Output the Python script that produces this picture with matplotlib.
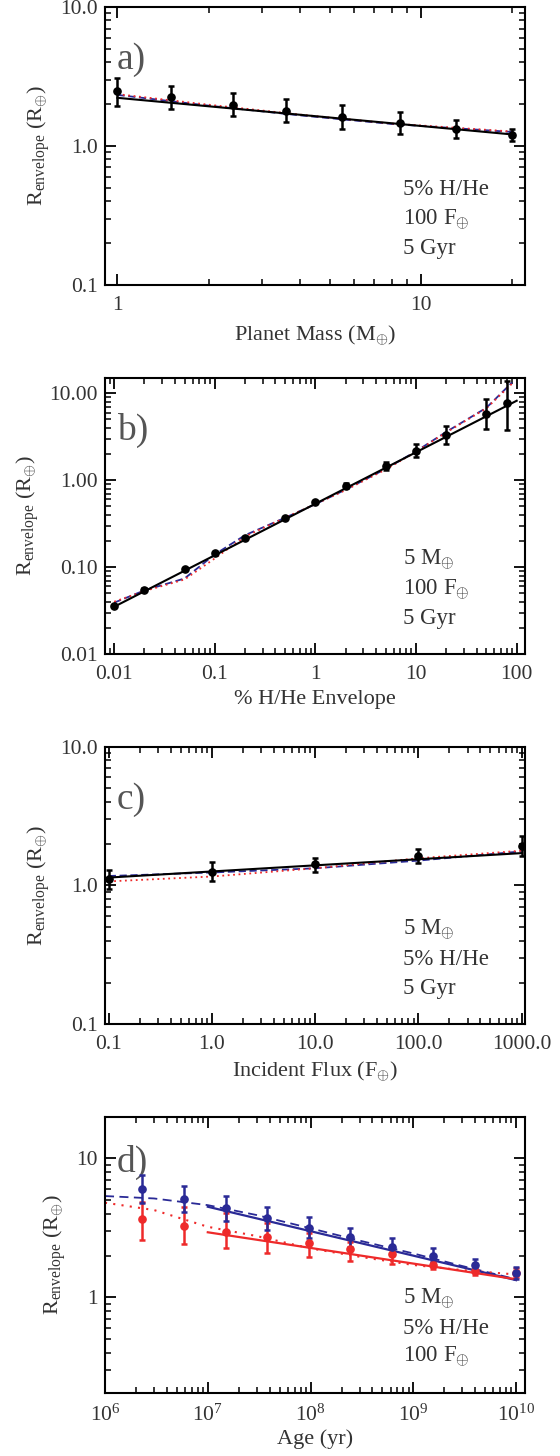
import matplotlib
matplotlib.use("Agg")
import matplotlib.pyplot as plt
from matplotlib.ticker import LogLocator, NullFormatter, FixedLocator, FixedFormatter

plt.rcParams['font.family'] = ['Liberation Serif', 'DejaVu Serif']
plt.rcParams['mathtext.fontset'] = 'custom'
plt.rcParams['mathtext.rm'] = 'Liberation Serif'
plt.rcParams['mathtext.it'] = 'Liberation Serif:italic'

TXT = '#333333'
LBL = '#555555'
BLUE = '#2a2a96'
RED = '#ee2a2a'

# ---------------- panel a data ----------------
mass = [1.0, 1.5, 2.4, 3.6, 5.5, 8.5, 13.0, 20.0]
ra = [2.50, 2.24, 1.98, 1.79, 1.62, 1.47, 1.32, 1.20]
ra_hi = [3.06, 2.70, 2.39, 2.18, 1.97, 1.75, 1.54, 1.33]
ra_lo = [1.94, 1.84, 1.64, 1.48, 1.33, 1.22, 1.15, 1.09]
fit_mass = [1.0, 20.0]
fit_a = [2.22, 1.21]
mod_mass = [1.0, 2.0, 4.0, 8.0, 20.0]
blue_a = [2.33, 1.95, 1.66, 1.44, 1.26]
red_a = [2.36, 1.98, 1.68, 1.45, 1.27]
a_yticks = [0.1, 1.0, 10.0]
a_ylabels = ['0.1', '1.0', '10.0']
a_xticks = [1, 10]
a_xlabels = ['1', '10']

# ---------------- panel b data ----------------
env = [0.01, 0.02, 0.05, 0.1, 0.2, 0.5, 1, 2, 5, 10, 20, 50, 80]
rb = [0.036, 0.055, 0.095, 0.144, 0.216, 0.372, 0.563, 0.868, 1.47, 2.17, 3.35, 5.79, 7.74]
rb_hi = [0.037, 0.057, 0.098, 0.148, 0.222, 0.382, 0.58, 0.92, 1.62, 2.62, 4.2, 8.7, 14.0]
rb_lo = [0.035, 0.053, 0.092, 0.140, 0.210, 0.362, 0.548, 0.82, 1.32, 1.85, 2.64, 3.9, 3.76]
fit_env = [0.01, 100.0]
fit_b = [0.035, 8.2]
mod_env = [0.01, 0.02, 0.05, 0.1, 0.2, 0.5, 1, 2, 5, 10, 20, 50, 90]
blue_b = [0.039, 0.054, 0.074, 0.140, 0.233, 0.37, 0.53, 0.78, 1.35, 2.15, 3.6, 6.8, 13.3]
red_b = [0.040, 0.053, 0.072, 0.126, 0.225, 0.37, 0.53, 0.77, 1.33, 2.12, 3.55, 6.7, 12.9]
b_yticks = [0.01, 0.1, 1.0, 10.0]
b_ylabels = ['0.01', '0.10', '1.00', '10.00']
b_xticks = [0.01, 0.1, 1, 10, 100]
b_xlabels = ['0.01', '0.1', '1', '10', '100']

# ---------------- panel c data ----------------
flux = [0.1, 1.0, 10.0, 100.0, 1000.0]
rc = [1.11, 1.26, 1.43, 1.64, 1.93]
rc_hi = [1.30, 1.47, 1.59, 1.84, 2.26]
rc_lo = [0.94, 1.07, 1.26, 1.45, 1.62]
fit_flux = [0.1, 1000.0]
fit_c = [1.14, 1.71]
blue_c = [1.17, 1.24, 1.33, 1.51, 1.76]
red_c = [1.07, 1.16, 1.33, 1.57, 1.78]
c_yticks = [0.1, 1.0, 10.0]
c_ylabels = ['0.1', '1.0', '10.0']
c_xticks = [0.1, 1, 10, 100, 1000]
c_xlabels = ['0.1', '1.0', '10.0', '100.0', '1000.0']

# ---------------- panel d data ----------------
age = [2.28e6, 5.87e6, 1.5e7, 3.8e7, 9.6e7, 2.4e8, 6.2e8, 1.57e9, 4.0e9, 1.0e10]
rd_blue = [5.98, 5.10, 4.37, 3.70, 3.17, 2.73, 2.31, 2.00, 1.71, 1.50]
rd_blue_hi = [7.6, 6.3, 5.36, 4.49, 3.80, 3.17, 2.69, 2.25, 1.89, 1.66]
rd_blue_lo = [4.74, 4.09, 3.54, 3.05, 2.66, 2.31, 2.05, 1.81, 1.55, 1.35]
rd_red = [3.64, 3.28, 2.97, 2.70, 2.45, 2.21, 2.04, 1.70, 1.55, 1.50]
rd_red_hi = [4.88, 4.49, 4.02, 3.41, 2.89, 2.51, 2.25, 1.80, 1.64, 1.62]
rd_red_lo = [2.58, 2.42, 2.25, 2.10, 1.96, 1.83, 1.74, 1.60, 1.46, 1.40]
fit_age = [1e7, 1e10]
fit_d_blue = [4.49, 1.33]
fit_d_red = [2.94, 1.35]
mod_age = [1e6, 3e6, 1e7, 3e7, 1e8, 3e8, 1e9, 3e9, 1e10]
blue_d = [5.36, 5.15, 4.61, 3.91, 3.14, 2.56, 2.07, 1.68, 1.35]
red_d = [4.80, 4.25, 3.22, 2.76, 2.25, 1.96, 1.71, 1.57, 1.46]
d_yticks = [1, 10]
d_ylabels = ['1', '10']

ylabel = r'R$_{\rm envelope}$ (R$_{\oplus}$)'

FS_TICK = 15.5
FS_LAB = 16
FS_NOTE = 16.5
FS_PANEL = 27

fig = plt.figure(figsize=(5.6, 14.56), dpi=100)
L, W = 0.1875, 0.75
axa = fig.add_axes([L, 0.8043, W, 0.1909])
axb = fig.add_axes([L, 0.5508, W, 0.1898])
axc = fig.add_axes([L, 0.2965, W, 0.1907])
axd = fig.add_axes([L, 0.0431, W, 0.1900])

def style(ax):
    ax.set_xscale('log')
    ax.set_yscale('log')
    for s in ax.spines.values():
        s.set_linewidth(1.5)
        s.set_color('black')
    ax.tick_params(which='both', direction='in', top=True, right=True,
                   colors='black', labelcolor=TXT, labelsize=FS_TICK)
    ax.tick_params(axis='y', which='major', pad=5)
    ax.tick_params(axis='x', which='major', pad=8)
    ax.tick_params(which='major', length=8, width=1.3)
    ax.tick_params(which='minor', length=4, width=1.1)
    ax.yaxis.set_minor_locator(LogLocator(base=10, subs=range(2, 10), numticks=20))
    ax.xaxis.set_minor_locator(LogLocator(base=10, subs=range(2, 10), numticks=20))
    ax.yaxis.set_minor_formatter(NullFormatter())
    ax.xaxis.set_minor_formatter(NullFormatter())
    ax.set_ylabel(ylabel, fontsize=FS_LAB, color=TXT, labelpad=6)

def notes(ax, lines):
    for t, yy in zip(lines, [0.342, 0.234, 0.130]):
        ax.text(0.709, yy, t, transform=ax.transAxes, fontsize=FS_NOTE,
                color=TXT, va='center', ha='left')

def panel_label(ax, t, y=0.81):
    ax.text(0.028, y, t, transform=ax.transAxes, fontsize=FS_PANEL, color=LBL,
            va='center', ha='left')

ekw = dict(fmt='o', color='black', ms=5.2, elinewidth=1.8, capsize=2.3,
           capthick=1.8, zorder=5)

# panel a
style(axa)
axa.plot(mod_mass, blue_a, ls=(0, (4, 2)), color=BLUE, lw=1.3)
axa.plot(mod_mass, red_a, ls=(0, (1, 2)), color=RED, lw=1.3)
axa.plot(fit_mass, fit_a, color='black', lw=1.5)
axa.errorbar(mass, ra, yerr=[[v - l for v, l in zip(ra, ra_lo)],
                             [h - v for v, h in zip(ra, ra_hi)]], **ekw)
axa.set_xlim(0.91, 22)
axa.set_ylim(0.1, 10)
axa.yaxis.set_major_locator(FixedLocator(a_yticks))
axa.yaxis.set_major_formatter(FixedFormatter(a_ylabels))
axa.xaxis.set_major_locator(FixedLocator(a_xticks))
axa.xaxis.set_major_formatter(FixedFormatter(a_xlabels))
axa.set_xlabel(r'Planet Mass (M$_{\oplus}$)', fontsize=FS_LAB, color=TXT, labelpad=6)
notes(axa, ['5% H/He', r'100 F$_{\oplus}$', '5 Gyr'])
panel_label(axa, 'a)')

# panel b
style(axb)
axb.plot(mod_env, blue_b, ls=(0, (4, 2)), color=BLUE, lw=1.3)
axb.plot(mod_env, red_b, ls=(0, (1, 2)), color=RED, lw=1.3)
axb.plot(fit_env, fit_b, color='black', lw=1.5)
axb.errorbar(env, rb, yerr=[[v - l for v, l in zip(rb, rb_lo)],
                            [h - v for v, h in zip(rb, rb_hi)]], **ekw)
axb.set_xlim(0.0081, 121)
axb.set_ylim(0.01, 15.1)
axb.yaxis.set_major_locator(FixedLocator(b_yticks))
axb.yaxis.set_major_formatter(FixedFormatter(b_ylabels))
axb.xaxis.set_major_locator(FixedLocator(b_xticks))
axb.xaxis.set_major_formatter(FixedFormatter(b_xlabels))
axb.set_xlabel('% H/He Envelope', fontsize=FS_LAB, color=TXT, labelpad=4)
notes(axb, [r'5 M$_{\oplus}$', r'100 F$_{\oplus}$', '5 Gyr'])
panel_label(axb, 'b)')

# panel c
style(axc)
axc.plot(flux, blue_c, ls=(0, (4, 2)), color=BLUE, lw=1.3)
axc.plot(flux, red_c, ls=(0, (1, 2)), color=RED, lw=1.3)
axc.plot(fit_flux, fit_c, color='black', lw=1.5)
axc.errorbar(flux, rc, yerr=[[v - l for v, l in zip(rc, rc_lo)],
                             [h - v for v, h in zip(rc, rc_hi)]], **ekw)
axc.set_xlim(0.092, 1080)
axc.set_ylim(0.1, 10)
axc.yaxis.set_major_locator(FixedLocator(c_yticks))
axc.yaxis.set_major_formatter(FixedFormatter(c_ylabels))
axc.xaxis.set_major_locator(FixedLocator(c_xticks))
axc.xaxis.set_major_formatter(FixedFormatter(c_xlabels))
axc.set_xlabel(r'Incident Flux (F$_{\oplus}$)', fontsize=FS_LAB, color=TXT, labelpad=4)
notes(axc, [r'5 M$_{\oplus}$', '5% H/He', '5 Gyr'])
panel_label(axc, 'c)')

# panel d
style(axd)
axd.plot(mod_age, blue_d, ls=(0, (5, 3)), color=BLUE, lw=1.3)
axd.plot(mod_age, red_d, ls=(0, (1, 3)), color=RED, lw=1.5)
axd.plot(fit_age, fit_d_blue, color=BLUE, lw=1.6)
axd.plot(fit_age, fit_d_red, color=RED, lw=1.6)
dkw = dict(fmt='o', ms=5.2, elinewidth=1.8, capsize=2.3, capthick=1.8, zorder=5)
axd.errorbar(age, rd_red, yerr=[[v - l for v, l in zip(rd_red, rd_red_lo)],
                                [h - v for v, h in zip(rd_red, rd_red_hi)]],
             color=RED, **dkw)
axd.errorbar(age, rd_blue, yerr=[[v - l for v, l in zip(rd_blue, rd_blue_lo)],
                                 [h - v for v, h in zip(rd_blue, rd_blue_hi)]],
             color=BLUE, **dkw)
axd.set_xlim(1e6, 1.22e10)
axd.set_ylim(0.204, 20)
axd.yaxis.set_major_locator(FixedLocator(d_yticks))
axd.yaxis.set_major_formatter(FixedFormatter(d_ylabels))
axd.xaxis.set_major_locator(LogLocator(base=10, numticks=10))
axd.set_xlabel('Age (yr)', fontsize=FS_LAB, color=TXT, labelpad=3)
notes(axd, [r'5 M$_{\oplus}$', '5% H/He', r'100 F$_{\oplus}$'])
panel_label(axd, 'd)', y=0.835)

fig.savefig('out.png', dpi=100)
